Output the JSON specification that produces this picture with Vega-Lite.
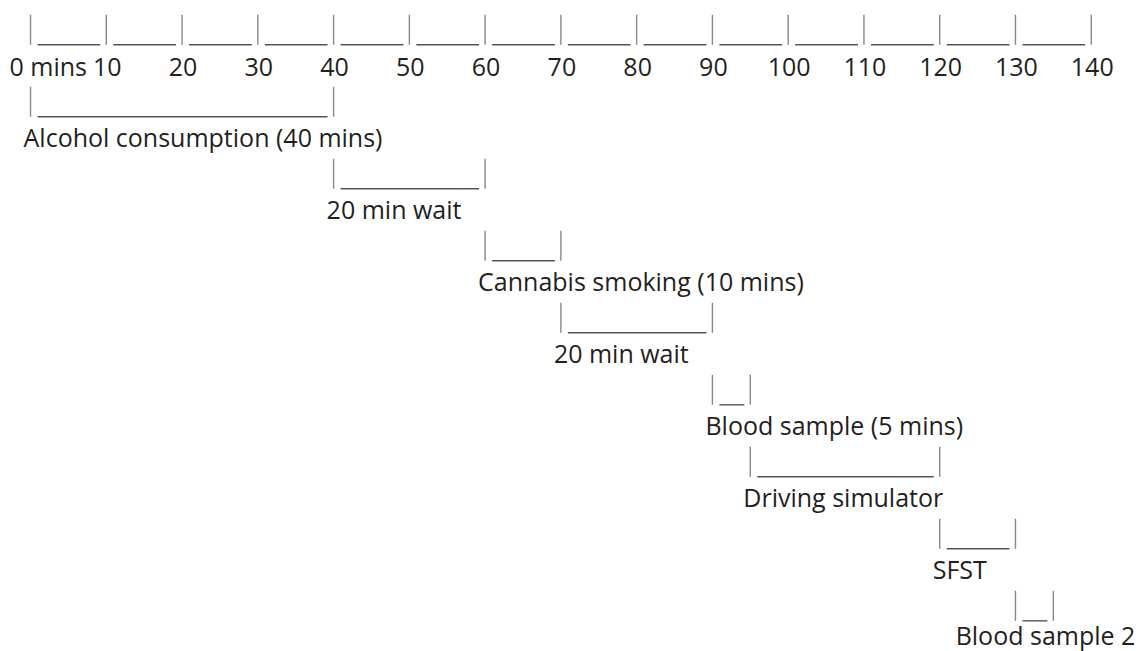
{
  "$schema": "https://vega.github.io/schema/vega-lite/v6.json",
  "width": 1142,
  "height": 651,
  "autosize": "none",
  "padding": 0,
  "background": "white",
  "config": {"view": {"stroke": null}},
  "datasets": {
    "ruler": [
      {"m": 0, "label": "0 mins"},
      {"m": 10, "label": "10"},
      {"m": 20, "label": "20"},
      {"m": 30, "label": "30"},
      {"m": 40, "label": "40"},
      {"m": 50, "label": "50"},
      {"m": 60, "label": "60"},
      {"m": 70, "label": "70"},
      {"m": 80, "label": "80"},
      {"m": 90, "label": "90"},
      {"m": 100, "label": "100"},
      {"m": 110, "label": "110"},
      {"m": 120, "label": "120"},
      {"m": 130, "label": "130"},
      {"m": 140, "label": "140"}
    ],
    "segments": [
      {"start": 0, "end": 10},
      {"start": 10, "end": 20},
      {"start": 20, "end": 30},
      {"start": 30, "end": 40},
      {"start": 40, "end": 50},
      {"start": 50, "end": 60},
      {"start": 60, "end": 70},
      {"start": 70, "end": 80},
      {"start": 80, "end": 90},
      {"start": 90, "end": 100},
      {"start": 100, "end": 110},
      {"start": 110, "end": 120},
      {"start": 120, "end": 130},
      {"start": 130, "end": 140}
    ],
    "steps": [
      {"order": 1, "task": "Alcohol consumption (40 mins)", "start": 0, "end": 40},
      {"order": 2, "task": "20 min wait", "start": 40, "end": 60},
      {"order": 3, "task": "Cannabis smoking (10 mins)", "start": 60, "end": 70},
      {"order": 4, "task": "20 min wait", "start": 70, "end": 90},
      {"order": 5, "task": "Blood sample (5 mins)", "start": 90, "end": 95},
      {"order": 6, "task": "Driving simulator", "start": 95, "end": 120},
      {"order": 7, "task": "SFST", "start": 120, "end": 130},
      {"order": 8, "task": "Blood sample 2", "start": 130, "end": 135}
    ]
  },
  "layer": [
    {
      "data": {"name": "ruler"},
      "mark": {"type": "tick", "orient": "vertical", "size": 30, "thickness": 1.4, "color": "#555555", "yOffset": -15},
      "encoding": {
        "x": {"field": "m", "type": "quantitative", "scale": {"domain": [-4.03, 146.7], "nice": false, "zero": false}, "axis": null},
        "y": {"datum": 0, "type": "quantitative", "scale": {"domain": [-0.622, 8.419], "reverse": true, "nice": false, "zero": false}, "axis": null}
      }
    },
    {
      "data": {"name": "segments"},
      "mark": {"type": "rule", "color": "#555555", "strokeWidth": 1.4, "xOffset": 7, "x2Offset": -6},
      "encoding": {
        "x": {"field": "start", "type": "quantitative"},
        "x2": {"field": "end"},
        "y": {"datum": 0, "type": "quantitative"}
      }
    },
    {
      "data": {"name": "ruler"},
      "transform": [{"filter": "datum.m == 0"}],
      "mark": {"type": "text", "align": "left", "baseline": "alphabetic", "dx": -21, "dy": 31, "font": "Open Sans", "fontSize": 25, "color": "#231f20"},
      "encoding": {
        "x": {"field": "m", "type": "quantitative"},
        "y": {"datum": 0, "type": "quantitative"},
        "text": {"field": "label"}
      }
    },
    {
      "data": {"name": "ruler"},
      "transform": [{"filter": "datum.m > 0"}],
      "mark": {"type": "text", "align": "center", "baseline": "alphabetic", "dx": 1, "dy": 31, "font": "Open Sans", "fontSize": 25, "color": "#231f20"},
      "encoding": {
        "x": {"field": "m", "type": "quantitative"},
        "y": {"datum": 0, "type": "quantitative"},
        "text": {"field": "label"}
      }
    },
    {
      "data": {"name": "steps"},
      "mark": {"type": "tick", "orient": "vertical", "size": 30, "thickness": 1.4, "color": "#555555", "yOffset": -15},
      "encoding": {
        "x": {"field": "start", "type": "quantitative"},
        "y": {"field": "order", "type": "quantitative"}
      }
    },
    {
      "data": {"name": "steps"},
      "mark": {"type": "tick", "orient": "vertical", "size": 30, "thickness": 1.4, "color": "#555555", "yOffset": -15},
      "encoding": {
        "x": {"field": "end", "type": "quantitative"},
        "y": {"field": "order", "type": "quantitative"}
      }
    },
    {
      "data": {"name": "steps"},
      "mark": {"type": "rule", "color": "#555555", "strokeWidth": 1.4, "xOffset": 7, "x2Offset": -6},
      "encoding": {
        "x": {"field": "start", "type": "quantitative"},
        "x2": {"field": "end"},
        "y": {"field": "order", "type": "quantitative"}
      }
    },
    {
      "data": {"name": "steps"},
      "transform": [{"filter": "datum.order < 8"}],
      "mark": {"type": "text", "align": "left", "baseline": "alphabetic", "dx": -7, "dy": 30, "font": "Open Sans", "fontSize": 25, "color": "#231f20"},
      "encoding": {
        "x": {"field": "start", "type": "quantitative"},
        "y": {"field": "order", "type": "quantitative"},
        "text": {"field": "task"}
      }
    },
    {
      "data": {"name": "steps"},
      "transform": [{"filter": "datum.order == 8"}],
      "mark": {"type": "text", "align": "right", "baseline": "alphabetic", "dx": 82, "dy": 24, "font": "Open Sans", "fontSize": 25, "color": "#231f20"},
      "encoding": {
        "x": {"field": "end", "type": "quantitative"},
        "y": {"field": "order", "type": "quantitative"},
        "text": {"field": "task"}
      }
    }
  ]
}
